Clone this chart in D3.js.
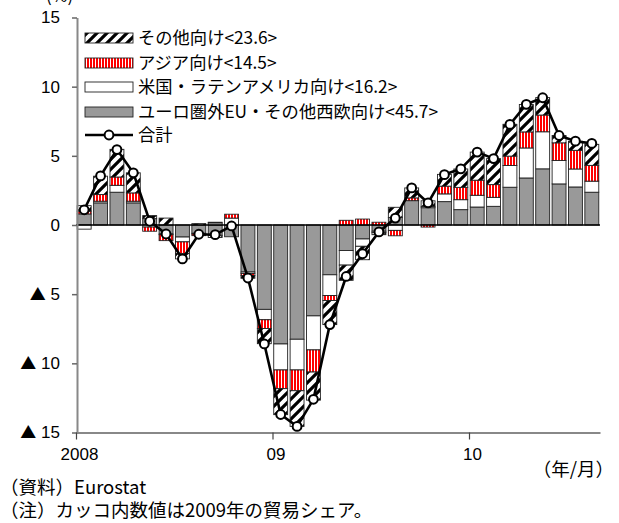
<!DOCTYPE html>
<html><head><meta charset="utf-8">
<script src="https://cdn.jsdelivr.net/npm/d3@7"></script>
<style>body{margin:0;background:#fff} svg{display:block}</style>
</head><body><svg id="c" width="619" height="523"></svg>
<script>
const months = ["2008-01","2008-02","2008-03","2008-04","2008-05","2008-06","2008-07","2008-08","2008-09","2008-10","2008-11","2008-12",
"2009-01","2009-02","2009-03","2009-04","2009-05","2009-06","2009-07","2009-08","2009-09","2009-10","2009-11","2009-12",
"2010-01","2010-02","2010-03","2010-04","2010-05","2010-06","2010-07","2010-08"];
const euWest  = [0.8,1.6,2.37,1.6,0.46,-0.65,-0.87,-0.6,-0.75,-0.85,-3.4,-6.1,-8.6,-8.26,-6.57,-3.6,-1.84,-1.01,-0.45,0.55,1.76,1.25,1.69,1.11,1.3,1.35,2.73,3.4,4.06,2.97,2.75,2.37];
const usLatam = [-0.3,0.12,0.5,0.12,-0.15,-0.05,-0.35,-0.05,0.15,0.5,-0.1,-0.75,-1.88,-2.22,-2.46,-1.5,-1.06,-0.53,-0.1,-0.39,0,0.1,0.56,0.72,0.85,0.65,1.57,2.17,2.68,1.69,1.3,0.8];
const asia    = [0.2,0.48,0.6,0.6,-0.3,-0.43,-0.85,-0.12,0.05,0.28,-0.15,-0.63,-1.35,-1.5,-1.6,-0.36,0.34,0.43,0.2,-0.39,0.2,-0.15,0.56,0.89,1.09,0.92,0.68,1.16,1.21,1.28,1.35,1.14];
const others  = [0.4,1.33,2.0,1.45,0.22,0.5,-0.38,0.1,-0.15,0,-0.2,-1.1,-1.88,-2.58,-2.03,-1.74,-1.1,-0.97,-0.15,0.73,0.72,0.4,0.85,1.33,2.03,1.88,2.3,1.98,1.26,0.53,0.65,1.52];
const total   = [1.1,3.55,5.45,3.77,0.27,-0.65,-2.45,-0.67,-0.7,-0.07,-3.83,-8.6,-13.7,-14.56,-12.6,-7.2,-3.72,-2.08,-0.5,0.5,2.68,1.6,3.64,4.06,5.27,4.8,7.27,8.72,9.2,6.47,6.06,5.9];
const yTicks = [15,10,5,0,-5,-10,-15];
const xTickIndex = [0,12,24];
const xTickLabels = ["2008","09","10"];
const seriesKeys = ["eu","us","asia","other"];
const legendLabels = ["その他向け<23.6>","アジア向け<14.5>","米国・ラテンアメリカ向け<16.2>","ユーロ圏外EU・その他西欧向け<45.7>","合計"];
const legendKeys = ["other","asia","us","eu","total"];

const svg = d3.select("#c");
const defs = svg.append("defs");
const hp = defs.append("pattern").attr("id","hatch").attr("patternUnits","userSpaceOnUse").attr("width",10).attr("height",10);
hp.append("rect").attr("width",10).attr("height",10).attr("fill","#fff");
hp.append("path").attr("d","M-2,2 L2,-2 M0,10 L10,0 M8,12 L12,8").attr("stroke","#000").attr("stroke-width",3.2);
const rp = defs.append("pattern").attr("id","red").attr("patternUnits","userSpaceOnUse").attr("width",3).attr("height",3);
rp.append("rect").attr("width",3).attr("height",3).attr("fill","#fff");
rp.append("rect").attr("width",2).attr("height",3).attr("fill","#ff0000");
const fills = {eu:"#999999", us:"#ffffff", asia:"url(#red)", other:"url(#hatch)"};

const rows = months.map((m,i)=>({month:m, eu:euWest[i], us:usLatam[i], asia:asia[i], other:others[i]}));
const stacked = d3.stack().keys(seriesKeys).offset(d3.stackOffsetDiverging)(rows);

const x = d3.scaleBand().domain(months).range([76,600]).paddingInner(0.15).paddingOuter(0.075);
const xIdx = d3.scaleLinear().domain([0,months.length]).range([76,600]);
const y = d3.scaleLinear().domain([-15,15]).range([432.5,17.5]);

const g = svg.append("g");
g.selectAll("g.s").data(stacked).join("g").attr("class","s")
  .attr("fill",d=>fills[d.key])
  .selectAll("rect").data(d=>d).join("rect")
  .attr("x",d=>x(d.data.month)).attr("width",x.bandwidth())
  .attr("y",d=>y(Math.max(d[0],d[1]))).attr("height",d=>Math.abs(y(d[0])-y(d[1])))
  .attr("stroke","#222").attr("stroke-width",0.9);

// zero line
svg.append("line").attr("x1",76).attr("x2",600).attr("y1",y(0)).attr("y2",y(0)).attr("stroke","#000").attr("stroke-width",1.6);

// y axis
const ya = svg.append("g").attr("transform","translate(77,0)")
  .call(d3.axisLeft(y).tickValues(yTicks).tickSize(5).tickSizeOuter(0).tickPadding(12)
    .tickFormat(v=> String(Math.abs(v))));
ya.select(".domain").attr("stroke","#888").attr("stroke-width",2);
ya.selectAll(".tick line").attr("stroke","#666").attr("stroke-width",1.5);
ya.selectAll("text").attr("font-family","'Liberation Sans',sans-serif").attr("font-size",17).attr("fill","#000");
ya.selectAll(".tick text").filter(d=>d<0).each(function(d){
  const t = d3.select(this); const num = t.text(); t.text(null);
  t.append("tspan").attr("font-family","'Noto Sans CJK JP',sans-serif").attr("font-size",16).text("▲");
  t.append("tspan").text(" "+num);
});

// x axis
const xa = svg.append("g").attr("transform",`translate(0,${y(-15)})`)
  .call(d3.axisBottom(xIdx).tickValues(xTickIndex).tickSize(7).tickSizeOuter(0).tickPadding(8)
    .tickFormat((d,i)=>xTickLabels[i]));
xa.select(".domain").attr("stroke","#888").attr("stroke-width",2);
xa.selectAll(".tick line").attr("stroke","#444").attr("stroke-width",1.2);
xa.selectAll("text").attr("font-family","'Liberation Sans',sans-serif").attr("font-size",17).attr("fill","#000").attr("dx",3);

// total line
const line = d3.line().x((d,i)=>x(months[i])+x.bandwidth()/2).y(d=>y(d));
svg.append("path").datum(total).attr("d",line).attr("fill","none").attr("stroke","#000").attr("stroke-width",2.6);
svg.selectAll("circle.t").data(total).join("circle").attr("class","t")
  .attr("cx",(d,i)=>x(months[i])+x.bandwidth()/2).attr("cy",d=>y(d)).attr("r",4.4)
  .attr("fill","#fff").attr("stroke","#000").attr("stroke-width",2);

// legend
const lg = svg.append("g");
const legendY = [38,63,87,112,135];
legendKeys.forEach((k,i)=>{
  const cy = legendY[i];
  if(k==="total"){
    lg.append("line").attr("x1",85).attr("x2",133).attr("y1",cy).attr("y2",cy).attr("stroke","#000").attr("stroke-width",2.6);
    lg.append("circle").attr("cx",109).attr("cy",cy).attr("r",4.4).attr("fill","#fff").attr("stroke","#000").attr("stroke-width",2);
  } else {
    lg.append("rect").attr("x",85).attr("y",cy-5).attr("width",48).attr("height",10).attr("fill",fills[k]).attr("stroke","#222").attr("stroke-width",0.9);
  }
  lg.append("text").attr("x",138).attr("y",cy+6).text(legendLabels[i])
    .attr("font-family","'Noto Sans CJK JP',sans-serif").attr("font-size",17.3).attr("fill","#000");
});

// other texts
const jp = "'Noto Sans CJK JP',sans-serif";
svg.append("text").attr("x",46).attr("y",2).text("(%)").attr("font-family",jp).attr("font-size",17);
svg.append("text").attr("x",614).attr("y",476).attr("text-anchor","end").text("（年/月）").attr("font-family",jp).attr("font-size",18.5);
svg.append("text").attr("x",0).attr("y",494).text("（資料）Eurostat").attr("font-family",jp).attr("font-size",18.5);
svg.append("text").attr("x",0).attr("y",517).text("（注）カッコ内数値は2009年の貿易シェア。").attr("font-family",jp).attr("font-size",18.5);
</script></body></html>
